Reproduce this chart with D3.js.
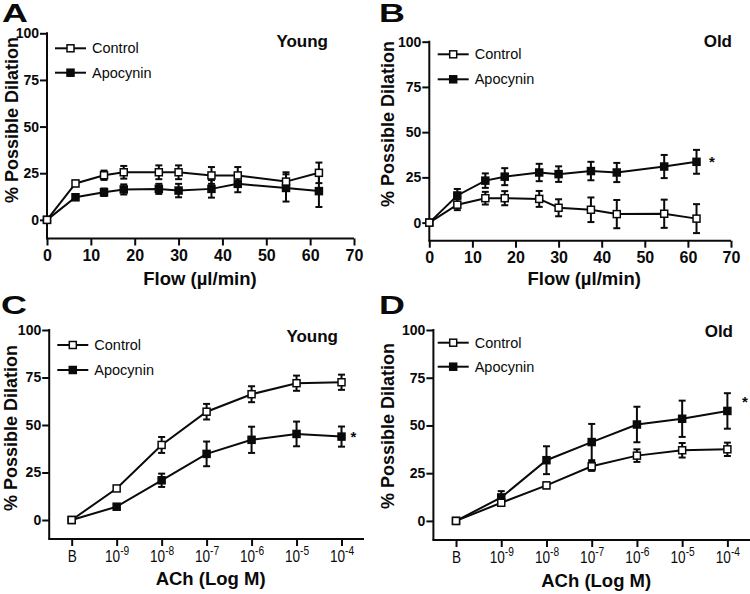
<!DOCTYPE html>
<html>
<head>
<meta charset="utf-8">
<script src="https://cdn.jsdelivr.net/npm/d3@7"></script>
<style>
  html, body { margin: 0; padding: 0; background: #fff; }
  svg { display: block; font-family: "Liberation Sans", Arial, Helvetica, sans-serif; }
</style>
</head>
<body>
<svg id="chart" width="750" height="594"></svg>
<script>
// ---------- data ----------
const flow = [0, 6.5, 13, 17.5, 25.5, 30, 37.5, 43.5, 54.5, 62];
const flowTicks = [0, 10, 20, 30, 40, 50, 60, 70];
const yTicks = [0, 25, 50, 75, 100];

const youngFlowControl     = [0, 19.5, 23.9, 25.5, 25.5, 25.5, 23.8, 23.8, 20.5, 25.2];
const youngFlowControlErr  = [0, 1.5, 2.5, 3.4, 3.7, 3.7, 4.5, 4.5, 5.0, 5.5];
const youngFlowApocynin    = [0, 12.1, 14.8, 16.3, 16.6, 15.7, 16.6, 19.3, 17.1, 15.4];
const youngFlowApocyninErr = [0, 1.5, 2.0, 2.7, 2.7, 3.6, 4.7, 4.5, 7.3, 8.5];

const oldFlowControl     = [0, 9.9, 13.5, 13.5, 13.1, 8.2, 7.1, 4.7, 4.9, 2.2];
const oldFlowControlErr  = [0, 3.0, 3.5, 3.9, 4.4, 4.7, 6.8, 7.8, 7.8, 8.0];
const oldFlowApocynin    = [0, 15.0, 23.2, 25.4, 27.7, 26.8, 28.5, 27.7, 31.0, 33.6];
const oldFlowApocyninErr = [0, 3.6, 4.0, 4.7, 4.8, 4.3, 5.1, 5.3, 6.4, 6.6];

const achLabels = ["B", "10^-9", "10^-8", "10^-7", "10^-6", "10^-5", "10^-4"];
const youngAchControl     = [0, 16.6, 39.5, 57.0, 66.2, 72.0, 72.5];
const youngAchControlErr  = [0, 1.0, 4.2, 4.1, 4.2, 4.0, 4.0];
const youngAchApocynin    = [0, 7.0, 20.9, 34.8, 42.2, 45.3, 43.9];
const youngAchApocyninErr = [0, 1.0, 3.5, 6.5, 6.9, 6.5, 5.3];

const oldAchControl     = [0, 9.5, 18.6, 28.6, 34.2, 37.0, 37.5];
const oldAchControlErr  = [0, 1.0, 1.5, 2.4, 3.3, 3.8, 3.5];
const oldAchApocynin    = [0, 12.3, 31.8, 41.3, 50.5, 53.5, 57.6];
const oldAchApocyninErr = [0, 3.3, 7.3, 9.5, 9.3, 9.5, 9.3];

const seriesNames = ["Control", "Apocynin"];

// ---------- drawing ----------
const svg = d3.select("#chart");
const INK = "#0a0a0a";
const FONT = "'Liberation Sans', Arial, sans-serif";

function drawPanel(p) {
  const g = svg.append("g");
  const x = d3.scaleLinear().domain(p.xDomain).range(p.xRange);
  const y = d3.scaleLinear().domain([-10, 100]).range(p.yRange);

  // y axis
  const yAxis = g.append("g").attr("transform", `translate(${p.xRange[0]},0)`)
    .call(d3.axisLeft(y).tickValues(yTicks).tickSize(7).tickPadding(1).tickSizeOuter(0));
  yAxis.select(".domain").remove();
  yAxis.append("line").attr("x1", 0).attr("x2", 0).attr("y1", y(100) - 1).attr("y2", p.yRange[0])
    .attr("stroke", INK).attr("stroke-width", 2);
  yAxis.selectAll(".tick line").attr("stroke", INK).attr("stroke-width", 2);
  yAxis.selectAll(".tick text").attr("fill", INK).attr("font-size", 14).attr("font-weight", "bold")
    .attr("font-family", FONT);

  // x axis
  let xAxisGen;
  if (p.type === "flow") {
    xAxisGen = d3.axisBottom(x).tickValues(flowTicks).tickSize(7).tickSizeOuter(0).tickFormat(d3.format("d"));
  } else {
    xAxisGen = d3.axisBottom(x).tickValues(d3.range(achLabels.length)).tickSize(7).tickSizeOuter(0).tickFormat("");
  }
  const xAxis = g.append("g").attr("transform", `translate(0,${p.yRange[0]})`).call(xAxisGen);
  xAxis.select(".domain").remove();
  xAxis.append("line").attr("x1", p.xRange[0] - 1).attr("x2", p.xRange[1]).attr("y1", 0).attr("y2", 0)
    .attr("stroke", INK).attr("stroke-width", 2);
  xAxis.selectAll(".tick line").attr("stroke", INK).attr("stroke-width", 2);
  if (p.type === "flow") {
    xAxis.selectAll(".tick text").attr("fill", INK).attr("font-size", 16).attr("font-weight", "bold")
      .attr("dy", null).attr("y", 22).attr("font-family", FONT);
  } else {
    xAxis.selectAll(".tick").each(function(d) {
      const lab = achLabels[d];
      const t = d3.select(this).append("text").attr("transform", "translate(0,22.5) scale(0.85,1)")
        .attr("fill", INK).attr("text-anchor", "middle").attr("font-size", 16).attr("font-family", FONT);
      const parts = lab.split("^");
      t.append("tspan").text(parts[0]);
      if (parts[1]) {
        t.append("tspan").attr("font-size", 12).attr("dy", -6.5).text(parts[1]);
      }
    });
  }

  // axis titles
  g.append("text").attr("x", (p.xRange[0] + p.xRange[1]) / 2 + p.xTitleDx).attr("y", p.xTitleY)
    .attr("text-anchor", "middle").attr("font-size", 18.5).attr("font-weight", "bold").attr("fill", INK)
    .text(p.xTitle);
  g.append("text").attr("transform", `translate(${p.yTitleX},${p.yTitleY}) rotate(-90)`)
    .attr("text-anchor", "middle").attr("font-size", 18).attr("font-weight", "bold").attr("fill", INK)
    .text("% Possible Dilation");

  // panel letter
  g.append("text").attr("transform", `translate(${p.letterX},${p.letterY}) scale(1.38,1)`)
    .attr("font-size", 26).attr("font-weight", "bold").attr("fill", INK).text(p.letter);

  // panel title
  g.append("text").attr("x", p.titleX).attr("y", p.titleY).attr("text-anchor", "end")
    .attr("font-size", 17).attr("font-weight", "bold").attr("fill", INK).text(p.title);

  // series: apocynin first, control last (on top)
  const xs = p.xs;
  const series = [
    { name: "Apocynin", vals: p.apo, err: p.apoErr, fill: INK },
    { name: "Control", vals: p.ctrl, err: p.ctrlErr, fill: "#fff" }
  ];
  const line = d3.line().x((d, i) => x(xs[i])).y(d => y(d));
  series.forEach(s => {
    const sg = g.append("g");
    sg.append("path").datum(s.vals).attr("d", line).attr("fill", "none")
      .attr("stroke", INK).attr("stroke-width", 2);
    s.vals.forEach((v, i) => {
      const e = s.err[i];
      if (e <= 0) return;
      const cx = x(xs[i]);
      sg.append("line").attr("x1", cx).attr("x2", cx).attr("y1", y(v + e)).attr("y2", y(v - e))
        .attr("stroke", INK).attr("stroke-width", 2);
      [v + e, v - e].forEach(w => {
        sg.append("line").attr("x1", cx - 3.5).attr("x2", cx + 3.5).attr("y1", y(w)).attr("y2", y(w))
          .attr("stroke", INK).attr("stroke-width", 2);
      });
    });
    sg.selectAll("rect.m").data(s.vals).enter().append("rect")
      .attr("x", (d, i) => x(xs[i]) - 3.5).attr("y", d => y(d) - 3.5)
      .attr("width", 7).attr("height", 7)
      .attr("fill", s.fill).attr("stroke", INK).attr("stroke-width", 1.5);
  });

  // legend
  seriesNames.forEach((name, k) => {
    const ly = p.legendY[k];
    svg.append("line").attr("x1", p.legendX).attr("x2", p.legendX + 31).attr("y1", ly).attr("y2", ly)
      .attr("stroke", INK).attr("stroke-width", 2);
    svg.append("rect").attr("x", p.legendX + 15.5 - 3.5).attr("y", ly - 3.5).attr("width", 7).attr("height", 7)
      .attr("fill", name === "Control" ? "#fff" : INK).attr("stroke", INK).attr("stroke-width", 1.5);
    svg.append("text").attr("x", p.legendX + 37).attr("y", ly + 5).attr("font-size", 14.5)
      .attr("fill", INK).text(name);
  });

  // significance asterisk
  if (p.star) {
    svg.append("text").attr("x", p.star[0]).attr("y", p.star[1]).attr("text-anchor", "middle")
      .attr("font-size", 15).attr("font-weight", "bold").attr("fill", INK).text("*");
  }
}

const idx = d3.range(achLabels.length);

drawPanel({
  type: "flow", letter: "A", title: "Young", xs: flow,
  xDomain: [0, 70], xRange: [47, 354], yRange: [238.5, 33.3],
  ctrl: youngFlowControl, ctrlErr: youngFlowControlErr, apo: youngFlowApocynin, apoErr: youngFlowApocyninErr,
  xTitle: "Flow (\u00b5l/min)", xTitleY: 285, xTitleDx: -0.5, yTitleX: 18, yTitleY: 120,
  letterX: 2, letterY: 22, titleX: 328, titleY: 46.5,
  legendX: 55, legendY: [48.3, 72.7], star: null
});
drawPanel({
  type: "flow", letter: "B", title: "Old", xs: flow,
  xDomain: [0, 70], xRange: [429.3, 731], yRange: [240.7, 41.7],
  ctrl: oldFlowControl, ctrlErr: oldFlowControlErr, apo: oldFlowApocynin, apoErr: oldFlowApocyninErr,
  xTitle: "Flow (\u00b5l/min)", xTitleY: 285, xTitleDx: 4, yTitleX: 394, yTitleY: 124,
  letterX: 379, letterY: 22, titleX: 732, titleY: 46.5,
  legendX: 437.7, legendY: [54.3, 79.3], star: [712, 167]
});
drawPanel({
  type: "ach", letter: "C", title: "Young", xs: idx,
  xDomain: [-0.5, 6.5], xRange: [49.2, 364], yRange: [539, 330],
  ctrl: youngAchControl, ctrlErr: youngAchControlErr, apo: youngAchApocynin, apoErr: youngAchApocyninErr,
  xTitle: "ACh (Log M)", xTitleY: 585, xTitleDx: 4, yTitleX: 17, yTitleY: 428,
  letterX: 1, letterY: 314, titleX: 338, titleY: 342,
  legendX: 57.3, legendY: [345, 370], star: [353.5, 442]
});
drawPanel({
  type: "ach", letter: "D", title: "Old", xs: idx,
  xDomain: [-0.5, 6.5], xRange: [433.4, 750], yRange: [540, 330],
  ctrl: oldAchControl, ctrlErr: oldAchControlErr, apo: oldAchApocynin, apoErr: oldAchApocyninErr,
  xTitle: "ACh (Log M)", xTitleY: 587, xTitleDx: 4.5, yTitleX: 394, yTitleY: 426,
  letterX: 379, letterY: 314, titleX: 733, titleY: 337,
  legendX: 437.7, legendY: [342.7, 366.7], star: [745, 407]
});
</script>
</body>
</html>
